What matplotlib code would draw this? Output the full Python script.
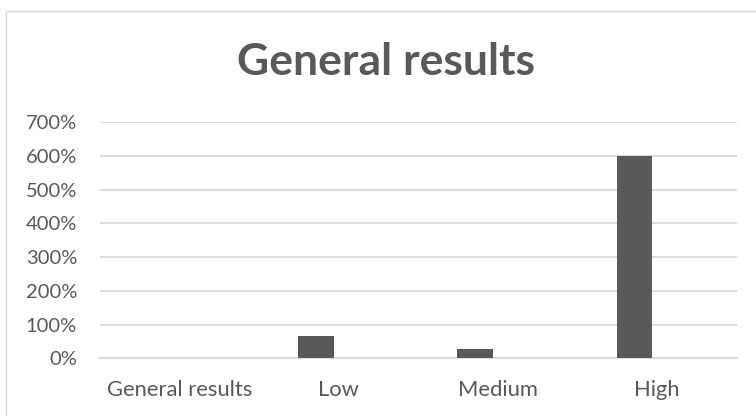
import matplotlib
matplotlib.use("Agg")
import matplotlib.pyplot as plt
from matplotlib.patches import Rectangle
from matplotlib.ticker import FuncFormatter

categories = ["General results", "Low", "Medium", "High"]
values = [0.0, 0.66, 0.27, 6.0]
yticks = [0, 1, 2, 3, 4, 5, 6, 7]

TEXT = "#595959"
BAR = "#595959"
GRID = "#d9d9d9"

plt.rcParams['font.family'] = ['Lato', 'DejaVu Sans']

W, H = 756, 416
fig = plt.figure(figsize=(W / 100, H / 100), dpi=100)

# chart border
fig.patches.append(Rectangle((6 / W, -0.1), 1.2, (H - 10.5) / H + 0.1,
                             transform=fig.transFigure, fill=False,
                             edgecolor=GRID, linewidth=1.0))

left, right = 100 / W, 736.7 / W
bottom, top = (H - 358.3) / H, (H - 122.3) / H
ax = fig.add_axes([left, bottom, right - left, top - bottom])

x = list(range(len(categories)))
bar_offset = -0.143
bar_width = 0.224
ax.bar([i + bar_offset for i in x], values, width=bar_width, color=BAR, zorder=3)

ax.set_xlim(-0.5, len(categories) - 0.5)
ax.set_ylim(0, 7)
ax.set_yticks(yticks)
ax.yaxis.set_major_formatter(FuncFormatter(lambda v, p: f"{int(round(v * 100))}%"))
ax.set_xticks(x)
ax.set_xticklabels(categories)

ax.grid(axis='y', color=GRID, linewidth=1.3, zorder=0)
ax.tick_params(axis='both', length=0, colors=TEXT)
ax.tick_params(axis='y', pad=16.5, labelsize=14.5)
ax.tick_params(axis='x', pad=15.5, labelsize=15.8)
for s in ["top", "right", "left"]:
    ax.spines[s].set_visible(False)
ax.spines["bottom"].set_color(GRID)
ax.spines["bottom"].set_linewidth(1.3)

fig.text(386 / W, (H - 75) / H, "General results", ha='center', va='baseline',
         fontsize=32, fontweight='bold', color=TEXT)

fig.savefig("out.png", dpi=100)
